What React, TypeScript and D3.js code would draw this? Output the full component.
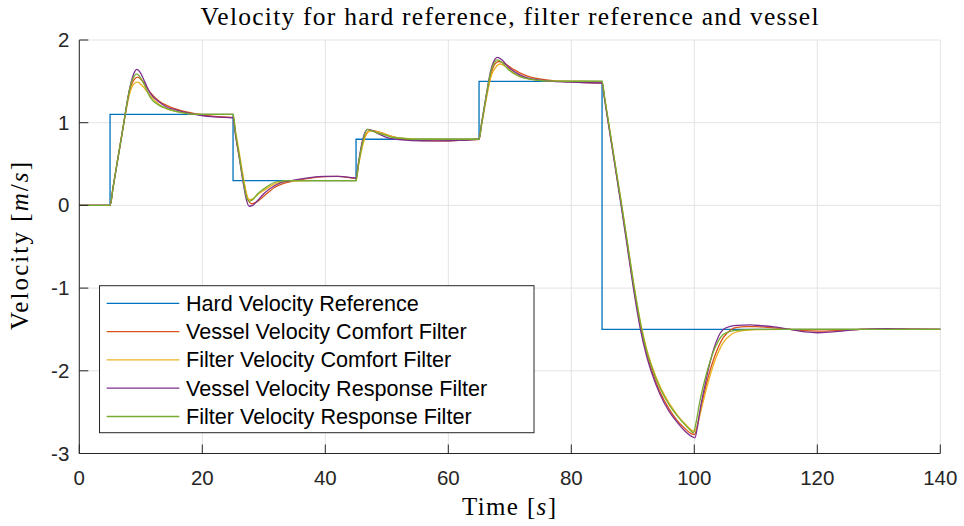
import React from "react";
import * as d3 from "d3";

type P = [number, number];

const xTicks = [0, 20, 40, 60, 80, 100, 120, 140];
const yTicks = [-3, -2, -1, 0, 1, 2];
const yTickLabels = ["-3", "-2", "-1", "0", "1", "2"];

const seriesNames = [
  "Hard Velocity Reference",
  "Vessel Velocity Comfort Filter",
  "Filter Velocity Comfort Filter",
  "Vessel Velocity Response Filter",
  "Filter Velocity Response Filter",
];
const seriesColors = ["#0072BD", "#D95319", "#EDB120", "#7E2F8E", "#77AC30"];

const hardReference: P[] = [
  [0, 0], [5, 1.1], [25, 0.3], [45, 0.8], [65, 1.5], [85, -1.5], [140, -1.5],
];

const vesselComfort: P[] = [
  [0, 0], [5, 0], [5.5, 0.22], [7, 0.89], [8.3, 1.42], [8.9, 1.52], [9.5, 1.55], [10.2, 1.51], [11.5, 1.37], [13, 1.26], [14.2, 1.21], [15.5, 1.17], [16.9, 1.14], [19.6, 1.1], [22, 1.075], [25, 1.062],
  [25.4, 0.86], [26, 0.6], [26.7, 0.3], [27.3, 0.1], [28, 0.02], [28.8, 0.04], [30, 0.11], [31.8, 0.22], [33, 0.26], [34.5, 0.29], [37, 0.325], [40, 0.348], [42, 0.35], [44, 0.335], [45, 0.325],
  [45.4, 0.5], [46, 0.74], [46.7, 0.87], [47.3, 0.905], [48, 0.9], [49.4, 0.87], [50.5, 0.84], [52, 0.81], [54, 0.79], [57.6, 0.78], [61, 0.785], [65, 0.8],
  [65.4, 0.97], [66, 1.23], [67, 1.6], [67.6, 1.71], [68.2, 1.74], [69, 1.72], [70.5, 1.65], [71.7, 1.6], [73, 1.56], [74.4, 1.535], [77, 1.51], [79.8, 1.495], [82, 1.485], [85, 1.48],
  [85.4, 1.3], [86, 1.01], [87, 0.54], [88.1, 0.02], [89.1, -0.47], [90.1, -0.97], [91.3, -1.49], [92.2, -1.78], [93.1, -2.0], [94.4, -2.25], [95.9, -2.46], [97.2, -2.6], [98.5, -2.7], [99.5, -2.76], [100.05, -2.77], [100.5, -2.66], [100.9, -2.52], [102, -2.15], [103.1, -1.87], [104.7, -1.6], [106, -1.5], [106.9, -1.475], [108.5, -1.465], [110, -1.465], [112, -1.475], [115.6, -1.5], [118, -1.515], [120, -1.52], [124, -1.51], [127, -1.5], [131, -1.493], [135, -1.497], [140, -1.5],
];

const filterComfort: P[] = [
  [0, 0], [5, 0], [5.5, 0.22], [7, 0.89], [8.3, 1.38], [8.9, 1.47], [9.5, 1.49], [10.2, 1.45], [11.5, 1.33], [13, 1.22], [14.2, 1.17], [15.5, 1.14], [16.9, 1.12], [19.6, 1.1], [25, 1.1],
  [25.4, 0.9], [26, 0.64], [26.7, 0.33], [27.2, 0.14], [27.6, 0.07], [28.2, 0.08], [29, 0.13], [30, 0.18], [31.8, 0.26], [33, 0.285], [34.5, 0.295], [38, 0.3], [45, 0.3],
  [45.4, 0.48], [46, 0.7], [46.7, 0.86], [47.3, 0.9], [48, 0.895], [49.4, 0.87], [50.5, 0.84], [52, 0.815], [55, 0.802], [65, 0.8],
  [65.4, 0.97], [66, 1.22], [67, 1.57], [67.7, 1.67], [68.4, 1.71], [69.5, 1.67], [70.5, 1.61], [71.7, 1.565], [73, 1.53], [74.4, 1.515], [77, 1.503], [85, 1.5],
  [85.4, 1.31], [86, 1.03], [87, 0.56], [88.2, 0], [89.2, -0.49], [90.2, -0.97], [91.4, -1.47], [92.3, -1.75], [93.2, -1.96], [94.5, -2.2], [96, -2.4], [97.4, -2.55], [98.6, -2.65], [99.6, -2.72], [100.1, -2.73], [100.5, -2.66], [100.9, -2.54], [102, -2.21], [103.1, -1.93], [104.7, -1.66], [106, -1.56], [106.9, -1.53], [108.5, -1.51], [110.1, -1.503], [114, -1.5], [140, -1.5],
];

const vesselResponse: P[] = [
  [0, 0], [5, 0], [5.5, 0.22], [7, 0.89], [8.3, 1.45], [8.9, 1.6], [9.35, 1.645], [9.9, 1.61], [10.6, 1.5], [11.5, 1.36], [13, 1.25], [14.2, 1.19], [15.5, 1.16], [16.9, 1.13], [19.6, 1.09], [22, 1.07], [25, 1.06],
  [25.4, 0.85], [26, 0.58], [26.7, 0.25], [27.2, 0.06], [27.6, -0.01], [28.2, 0.0], [29, 0.06], [30, 0.14], [31.8, 0.24], [33, 0.28], [34.5, 0.3], [37, 0.33], [40, 0.35], [42, 0.35], [44, 0.34], [45, 0.33],
  [45.4, 0.52], [46, 0.77], [46.5, 0.89], [46.9, 0.92], [47.5, 0.91], [48.5, 0.87], [49.4, 0.84], [50.5, 0.81], [52, 0.795], [54, 0.785], [57.6, 0.78], [61, 0.785], [65, 0.8],
  [65.4, 0.99], [66, 1.26], [67, 1.66], [67.6, 1.77], [68, 1.79], [68.7, 1.76], [69.8, 1.67], [71.7, 1.575], [73, 1.54], [74.4, 1.52], [77, 1.5], [79.8, 1.49], [82, 1.485], [85, 1.48],
  [85.4, 1.29], [86, 1.0], [87, 0.53], [88.1, 0], [89.1, -0.5], [90.1, -1.0], [91.3, -1.52], [92.2, -1.81], [93.1, -2.03], [94.4, -2.28], [95.9, -2.49], [97.2, -2.62], [98.5, -2.73], [99.5, -2.79], [100.1, -2.81], [100.5, -2.68], [100.9, -2.49], [102, -2.08], [103.1, -1.75], [104.7, -1.5], [106, -1.46], [107, -1.45], [109, -1.445], [111, -1.455], [113, -1.47], [115.6, -1.5], [118, -1.53], [120, -1.54], [122.5, -1.53], [127, -1.5], [131.3, -1.49], [135, -1.495], [140, -1.5],
];

const filterResponse: P[] = [
  [0, 0], [5, 0], [5.5, 0.22], [7, 0.89], [8.3, 1.44], [8.9, 1.56], [9.3, 1.59], [9.8, 1.56], [10.5, 1.47], [11.5, 1.31], [13, 1.21], [14.2, 1.17], [15.5, 1.14], [16.9, 1.12], [19.6, 1.1], [25, 1.1],
  [25.4, 0.88], [26, 0.6], [26.7, 0.28], [27.2, 0.1], [27.6, 0.05], [28.2, 0.07], [29, 0.14], [30, 0.2], [31.8, 0.28], [33, 0.295], [34.5, 0.3], [45, 0.3],
  [45.4, 0.5], [46, 0.74], [46.5, 0.88], [46.8, 0.92], [47.3, 0.91], [48.3, 0.88], [49.4, 0.86], [50.5, 0.83], [52, 0.815], [55, 0.8], [65, 0.8],
  [65.4, 0.98], [66, 1.25], [67, 1.64], [67.6, 1.74], [68, 1.76], [68.7, 1.73], [69.8, 1.64], [71.7, 1.555], [73, 1.53], [74.4, 1.515], [77, 1.503], [85, 1.5],
  [85.4, 1.31], [86, 1.03], [87, 0.56], [88.2, 0], [89.2, -0.49], [90.2, -0.98], [91.4, -1.48], [92.3, -1.77], [93.2, -1.98], [94.5, -2.22], [96, -2.42], [97.4, -2.56], [98.6, -2.66], [99.5, -2.73], [99.85, -2.75], [100.3, -2.62], [100.9, -2.37], [102, -2.03], [103.1, -1.77], [104.7, -1.56], [106, -1.52], [106.9, -1.51], [110, -1.5], [140, -1.5],
];

const W = 964;
const H = 526;
const left = 79.3;
const right = 940.3;
const top = 40;
const bottom = 453.5;

export default function App() {
  const x = d3.scaleLinear().domain([0, 140]).range([left, right]);
  const y = d3.scaleLinear().domain([-3, 2]).range([bottom, top]);

  const stepLine = d3
    .line<P>()
    .x((d) => x(d[0]))
    .y((d) => y(d[1]))
    .curve(d3.curveStepAfter);
  const smoothLine = d3
    .line<P>()
    .x((d) => x(d[0]))
    .y((d) => y(d[1]))
    .curve(d3.curveMonotoneX);

  const curves = [vesselComfort, filterComfort, vesselResponse, filterResponse];
  const axisColor = "#262626";
  const gridColor = "#e3e3e3";
  const sans = "'Liberation Sans', Arial, Helvetica, sans-serif";
  const serif = "'Liberation Serif', 'Times New Roman', serif";

  const legX = 99.5;
  const legY = 285.7;
  const legW = 434.5;
  const legH = 147;
  const rowH = 28.3;

  return (
    <svg
      width={W}
      height={H}
      viewBox={`0 0 ${W} ${H}`}
      style={{ position: "fixed", left: 0, top: 0, background: "#fff" }}
    >
      <rect x={0} y={0} width={W} height={H} fill="#fff" />
      <g stroke={gridColor} strokeWidth={1}>
        {xTicks.map((t) => (
          <line key={"gx" + t} x1={x(t)} x2={x(t)} y1={top} y2={bottom} />
        ))}
        {yTicks.map((t) => (
          <line key={"gy" + t} x1={left} x2={right} y1={y(t)} y2={y(t)} />
        ))}
      </g>

      <path d={stepLine(hardReference) || ""} fill="none" stroke={seriesColors[0]} strokeWidth={1.3} />
      {curves.map((c, i) => (
        <path
          key={"c" + i}
          d={smoothLine(c) || ""}
          fill="none"
          stroke={seriesColors[i + 1]}
          strokeWidth={1.3}
          strokeLinejoin="round"
        />
      ))}

      <g stroke={axisColor} strokeWidth={1}>
        <line x1={left} x2={left} y1={top} y2={bottom} />
        <line x1={left} x2={right} y1={bottom} y2={bottom} />
        {xTicks.map((t) => (
          <line key={"tx" + t} x1={x(t)} x2={x(t)} y1={bottom} y2={bottom - 9} />
        ))}
        {yTicks.map((t) => (
          <line key={"ty" + t} x1={left} x2={left + 9} y1={y(t)} y2={y(t)} />
        ))}
      </g>
      <g fill={axisColor} fontFamily={sans} fontSize={20.5}>
        {xTicks.map((t) => (
          <text key={"lx" + t} x={x(t)} y={bottom + 31} textAnchor="middle">
            {String(t)}
          </text>
        ))}
        {yTicks.map((t, i) => (
          <text key={"ly" + t} x={left - 10} y={y(t) + 7} textAnchor="end">
            {yTickLabels[i]}
          </text>
        ))}
      </g>

      <text x={509.5} y={25} textAnchor="middle" fontFamily={serif} fontSize={25.5} fill="#000" textLength={618} lengthAdjust="spacing">
        Velocity for hard reference, filter reference and vessel
      </text>
      <text x={509} y={515} textAnchor="middle" fontFamily={serif} fontSize={25} fill="#000" textLength={94} lengthAdjust="spacing">
        Time [<tspan fontStyle="italic">s</tspan>]
      </text>
      <text
        transform={`translate(28, 246) rotate(-90)`}
        textAnchor="middle"
        fontFamily={serif}
        fontSize={25}
        fill="#000"
        textLength={168}
        lengthAdjust="spacing"
      >
        Velocity [<tspan fontStyle="italic">m</tspan>/<tspan fontStyle="italic">s</tspan>]
      </text>

      <rect x={legX} y={legY} width={legW} height={legH} fill="#fff" stroke={axisColor} strokeWidth={1} />
      {seriesNames.map((name, i) => {
        const cy = legY + 17.6 + i * rowH;
        return (
          <g key={"leg" + i}>
            <line x1={106.7} x2={179.3} y1={cy} y2={cy} stroke={seriesColors[i]} strokeWidth={1.3} />
            <text x={186} y={cy + 7.5} fontFamily={sans} fontSize={21.6} fill="#000">
              {name}
            </text>
          </g>
        );
      })}
    </svg>
  );
}
